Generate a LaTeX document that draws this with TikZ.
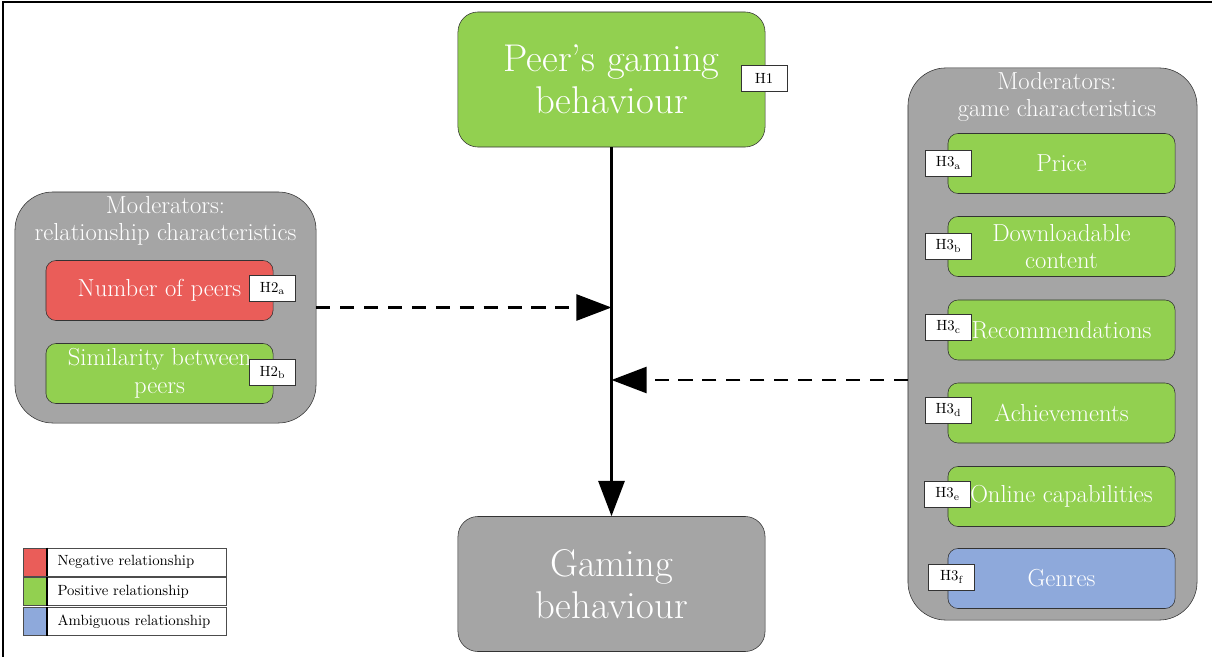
\documentclass[tikz,border=0pt]{standalone}
\usepackage{tikz}
\usetikzlibrary{arrows.meta,positioning}
\definecolor{posgreen}{HTML}{92D050}
\definecolor{negred}{HTML}{EA5D59}
\definecolor{ambblue}{HTML}{8EA9DB}
\definecolor{boxgray}{HTML}{A5A5A5}
\tikzset{
  every node/.style={
    font=\fontsize{17.5}{19.5}\selectfont
  },
  mainbox/.style={
    shape=rectangle,
    rounded corners=0.5cm,
    draw=black!80,
    thin,
    text=white,
    align=center,
    minimum width=7.675cm,
    minimum height=3.375cm,
    font=\fontsize{27.5}{30}\selectfont
  },
  groupbox/.style={
    shape=rectangle,
    rounded corners=0.95cm,
    draw=black!80,
    thin,
    fill=boxgray
  },
  grouptitle/.style={
    text=white,
    align=center,
    inner sep=0
  },
  factor/.style={
    shape=rectangle,
    rounded corners=0.25cm,
    draw=black!80,
    thin,
    text=white,
    align=center,
    minimum width=5.675cm,
    minimum height=1.5cm,
    inner sep=0
  },
  hyp/.style={
    shape=rectangle,
    draw=black!80,
    thin,
    fill=white,
    minimum width=1.15cm,
    minimum height=0.65cm,
    inner sep=0,
    font=\fontsize{10.5}{12}\selectfont
  },
  legendkey/.style={
    shape=rectangle,
    draw=black!70,
    minimum width=0.6cm,
    minimum height=0.7cm,
    inner sep=0
  },
  legendtext/.style={
    shape=rectangle,
    draw=black!70,
    fill=white,
    minimum width=4.475cm,
    minimum height=0.7cm,
    text width=3.975cm,
    align=left,
    inner sep=0,
    font=\fontsize{10.5}{12}\selectfont
  },
  mainarrow/.style={
    line width=2pt,
    -{Triangle[length=0.88cm,width=0.65cm]}
  },
  modarrow/.style={
    line width=2pt,
    dash pattern=on 10pt off 7pt,
    -{Triangle[length=0.88cm,width=0.65cm]}
  }
}

\begin{document}
\begin{tikzpicture}[x=0.025cm,y=-0.025cm]
\useasboundingbox (0,0) rectangle (1212,657);
\draw[line width=1.5pt] (3,657) -- (3,2) -- (1212,2);

% central boxes
\node [mainbox, fill=posgreen] (peer) at (611.5,79.5) {Peer's gaming\\behaviour};
\node [mainbox, fill=boxgray] (gaming) at (611.5,584) {Gaming\\behaviour};
\node [hyp] (h1) at (764,78.5) {H1};

% relationship moderators
\node [groupbox, minimum width=7.525cm, minimum height=5.775cm] (relgroup) at (165.5,307.5) {};
\node [grouptitle] (reltitle) at (165.5,221) {Moderators:\\relationship characteristics};
\node [factor, fill=negred] (numpeers) at (159.5,290.5) {Number of peers};
\node [factor, fill=posgreen] (similar) at (159.5,373.5) {Similarity between\\peers};
\node [hyp] (h2a) at (272.5,288.5) {H2\textsubscript{a}};
\node [hyp] (h2b) at (272.5,372.5) {H2\textsubscript{b}};

% game moderators
\node [groupbox, minimum width=7.225cm, minimum height=13.8cm] (gamegroup) at (1052.5,344) {};
\node [grouptitle] (gametitle) at (1057,97) {Moderators:\\game characteristics};
\node [factor, fill=posgreen] (price) at (1061.5,163.5) {Price};
\node [factor, fill=posgreen] (dlc) at (1061.5,246.5) {Downloadable\\content};
\node [factor, fill=posgreen] (recomm) at (1061.5,330) {Recommendations};
\node [factor, fill=posgreen] (achiev) at (1061.5,413) {Achievements};
\node [factor, fill=posgreen] (online) at (1061.5,496.5) {Online capabilities};
\node [factor, fill=ambblue] (genres) at (1061.5,578.5) {Genres};
\node [hyp] (h3a) at (948.5,163) {H3\textsubscript{a}};
\node [hyp] (h3b) at (948.5,246) {H3\textsubscript{b}};
\node [hyp] (h3c) at (948.5,327) {H3\textsubscript{c}};
\node [hyp] (h3d) at (948.5,410) {H3\textsubscript{d}};
\node [hyp] (h3e) at (947.5,494) {H3\textsubscript{e}};
\node [hyp] (h3f) at (951.5,577) {H3\textsubscript{f}};

% arrows
\coordinate (modleft) at (611.5,307.5);
\coordinate (modright) at (611.5,380);
\draw [mainarrow] (peer.south) -- (gaming.north);
\draw [modarrow] (relgroup.east) -- (modleft);
\draw [modarrow] (gamegroup.west |- modright) -- (modright);

% legend
\node [legendkey, fill=negred] (negkey) at (35,562) {};
\node [legendkey, fill=posgreen] (poskey) at (35,591.5) {};
\node [legendkey, fill=ambblue] (ambkey) at (35,621.5) {};
\node [legendtext, right=0pt of negkey] (negtext) {Negative relationship};
\node [legendtext, right=0pt of poskey] (postext) {Positive relationship};
\node [legendtext, right=0pt of ambkey] (ambtext) {Ambiguous relationship};
\draw [line width=1.2pt] (negkey.north east) -- (negkey.south east)
  (poskey.north east) -- (poskey.south east)
  (ambkey.north east) -- (ambkey.south east);

\end{tikzpicture}
\end{document}
